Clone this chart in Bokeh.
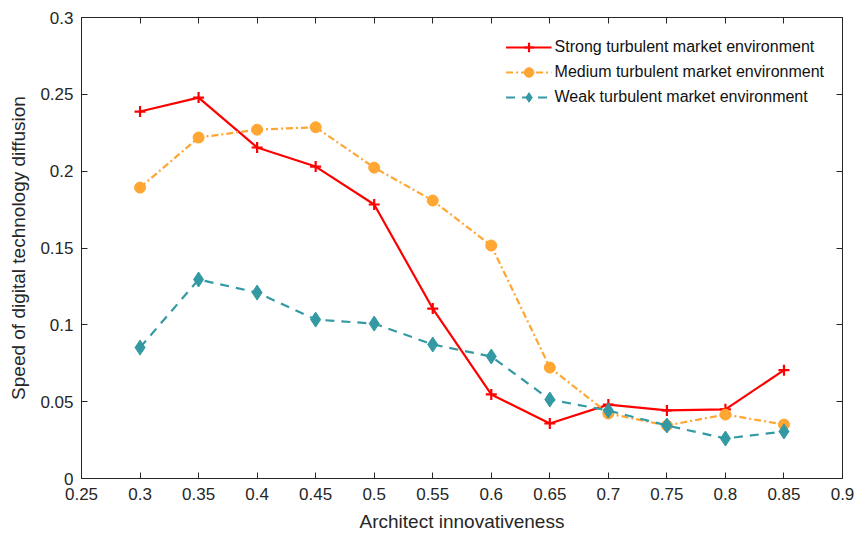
from bokeh.plotting import figure
from bokeh.models import FixedTicker, LinearAxis, Range1d
from bokeh.embed import file_html
from bokeh.resources import INLINE

x_vals = [0.3, 0.35, 0.4, 0.45, 0.5, 0.55, 0.6, 0.65, 0.7, 0.75, 0.8, 0.85]
strong = [0.2388, 0.2479, 0.2154, 0.2030, 0.1783, 0.1106, 0.0547, 0.0358, 0.0481, 0.0443, 0.0450, 0.0705]
medium = [0.1893, 0.2219, 0.2270, 0.2286, 0.2023, 0.1809, 0.1516, 0.0722, 0.0423, 0.0345, 0.0416, 0.0351]
weak = [0.0852, 0.1295, 0.1210, 0.1034, 0.1008, 0.0872, 0.0794, 0.0514, 0.0442, 0.0345, 0.0260, 0.0306]

x_ticks = [0.25, 0.3, 0.35, 0.4, 0.45, 0.5, 0.55, 0.6, 0.65, 0.7, 0.75, 0.8, 0.85, 0.9]
x_tick_labels = ["0.25", "0.3", "0.35", "0.4", "0.45", "0.5", "0.55", "0.6", "0.65", "0.7", "0.75", "0.8", "0.85", "0.9"]
y_ticks = [0, 0.05, 0.1, 0.15, 0.2, 0.25, 0.3]
y_tick_labels = ["0", "0.05", "0.1", "0.15", "0.2", "0.25", "0.3"]

FONT = "Liberation Sans"
RED = "#ff0000"
ORANGE = "#ffa633"
TEAL = "#3399a3"
AX = "#262626"

p = figure(width=855, height=538, output_backend="svg", toolbar_location=None,
           x_range=Range1d(0.25, 0.9), y_range=Range1d(0, 0.3),
           min_border_left=81, min_border_right=13, min_border_top=17, min_border_bottom=60)
p.xgrid.visible = False
p.ygrid.visible = False
p.outline_line_color = AX
p.outline_line_width = 1
p.background_fill_color = "white"
p.border_fill_color = "white"

p.line(x_vals, strong, color=RED, line_width=2.2, legend_label="Strong turbulent market environment")
p.scatter(x_vals, strong, marker="cross", size=11, line_color=RED, line_width=2.2,
          legend_label="Strong turbulent market environment")

p.line(x_vals, medium, color=ORANGE, line_width=2.2, line_dash="7 3 2 3",
       legend_label="Medium turbulent market environment")
p.scatter(x_vals, medium, marker="circle", size=11, fill_color=ORANGE, line_color=ORANGE,
          legend_label="Medium turbulent market environment")

p.line(x_vals, weak, color=TEAL, line_width=2.2, line_dash="9 7",
       legend_label="Weak turbulent market environment")
p.scatter(x_vals, weak, marker="diamond", size=15, fill_color=TEAL, line_color=TEAL,
          legend_label="Weak turbulent market environment")

for ax in (p.xaxis[0], p.yaxis[0]):
    ax.major_tick_in = 6
    ax.major_tick_out = 0
    ax.minor_tick_in = 0
    ax.minor_tick_out = 0
    ax.axis_line_color = AX
    ax.major_tick_line_color = AX
    ax.major_label_text_font = FONT
    ax.major_label_text_font_size = "17px"
    ax.major_label_text_color = AX
    ax.axis_label_text_font = FONT
    ax.axis_label_text_font_size = "19px"
    ax.axis_label_text_font_style = "normal"
    ax.axis_label_text_color = AX

p.xaxis.ticker = FixedTicker(ticks=x_ticks)
p.xaxis.major_label_overrides = dict(zip(x_ticks, x_tick_labels))
p.yaxis.ticker = FixedTicker(ticks=y_ticks)
p.yaxis.major_label_overrides = dict(zip(y_ticks, y_tick_labels))
p.xaxis.axis_label = "Architect innovativeness"
p.yaxis.axis_label = "Speed of digital technology diffusion"
p.xaxis.major_label_standoff = 9
p.yaxis.major_label_standoff = 8
p.xaxis.axis_label_standoff = 8
p.yaxis.axis_label_standoff = 8

top_ax = LinearAxis(ticker=FixedTicker(ticks=x_ticks), major_tick_in=6, major_tick_out=0,
                    minor_tick_in=0, minor_tick_out=0, major_label_text_font_size="0px",
                    axis_line_color=AX, major_tick_line_color=AX)
top_ax.major_label_overrides = {t: "" for t in x_ticks}
right_ax = LinearAxis(ticker=FixedTicker(ticks=y_ticks), major_tick_in=6, major_tick_out=0,
                      minor_tick_in=0, minor_tick_out=0, major_label_text_font_size="0px",
                      axis_line_color=AX, major_tick_line_color=AX)
right_ax.major_label_overrides = {t: "" for t in y_ticks}
p.add_layout(top_ax, "above")
p.add_layout(right_ax, "right")

p.legend.location = "top_right"
p.legend.border_line_alpha = 0
p.legend.background_fill_alpha = 0
p.legend.label_text_font = FONT
p.legend.label_text_font_size = "16px"
p.legend.label_text_color = "#111111"
p.legend.glyph_width = 46
p.legend.glyph_height = 24
p.legend.spacing = 1
p.legend.label_standoff = 3
p.legend.margin = 12
p.legend.padding = 6

open("out.html", "w").write(file_html(p, INLINE))
